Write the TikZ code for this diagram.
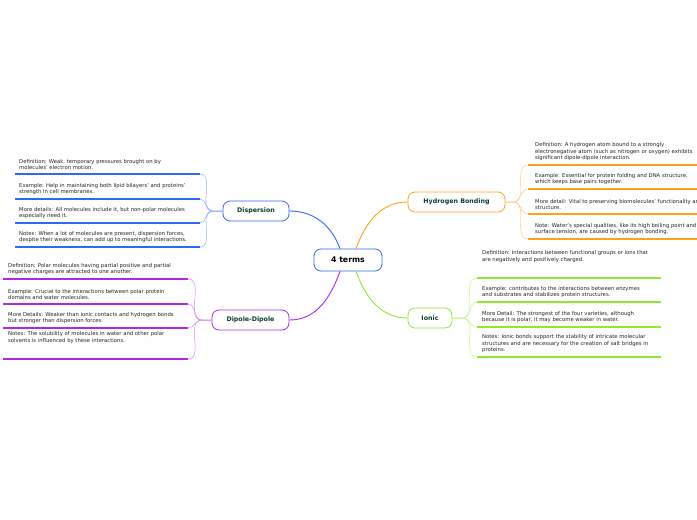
\documentclass[tikz,border=0pt]{standalone}
\usepackage{fontspec}
\setmainfont{DejaVu Sans}
\definecolor{cblue}{HTML}{2F6BF0}
\definecolor{cpurp}{HTML}{A82AF0}
\definecolor{corg}{HTML}{FFA11A}
\definecolor{cgrn}{HTML}{8EEA2A}
\definecolor{ctxt}{HTML}{222222}
\definecolor{clab}{HTML}{0B3D2E}
\tikzset{
 topic/.style={draw=#1,rounded corners=7pt,line width=0.8pt,fill=white,font=\fontsize{6.3}{7}\selectfont\bfseries,text=clab,minimum height=20pt,inner xsep=0pt},
 leaf/.style={anchor=south west,align=left,font=\fontsize{5.3}{6.6}\selectfont,text=ctxt,inner sep=0pt},
 uline/.style={draw=#1,line width=1.4pt},
 conn/.style={draw=#1,line width=0.9pt},
 fan/.style={draw=#1!55,line width=0.5pt},
}
\begin{document}
\begin{tikzpicture}[x=1pt,y=-1pt]
\useasboundingbox (0,0) rectangle (697,520);
% center and topics
\node[topic=cblue,minimum width=68pt,font=\fontsize{7.8}{8}\selectfont\bfseries,text=black,minimum height=22pt] (c) at (348,260) {4 terms};
\node[topic=cblue,minimum width=66pt] (d) at (256,211) {Dispersion};
\node[topic=cpurp,minimum width=77pt] (p) at (250.5,320) {Dipole-Dipole};
\node[topic=corg,minimum width=97pt] (h) at (456.5,202) {Hydrogen Bonding};
\node[topic=cgrn,minimum width=44pt] (i) at (430,318) {Ionic};
\draw[conn=cblue] (c.north) ++(-8,0) coordinate (c1) (c1) to[out=110,in=0] (d.east);
\draw[conn=cpurp] (c.south) ++(-8,0) coordinate (c2) (c2) to[out=-110,in=0] (p.east);
\draw[conn=corg] (c.north) ++(8,0) coordinate (c3) (c3) to[out=70,in=180] (h.west);
\draw[conn=cgrn] (c.south) ++(8,0) coordinate (c4) (c4) to[out=-70,in=180] (i.west);
% Dispersion leaves
\foreach \y/\t in {174/{Definition: Weak, temporary pressures brought on by\\molecules' electron motion.},
 199/{Example: Help in maintaining both lipid bilayers' and proteins'\\strength in cell membranes.},
 223/{More details: All molecules include it, but non-polar molecules\\especially need it.},
 247/{Notes: When a lot of molecules are present, dispersion forces,\\despite their weakness, can add up to meaningful interactions.}}{
 \coordinate (e) at (200,\y);
 \draw[uline=cblue] (15,\y) -- (e);
 \node[leaf] at (19,\y-4) {\t};
 \draw[fan=cblue] (d.west) -- ++(-10,0) to[out=180,in=0] (e);
}
% Dipole leaves
\foreach \y/\t in {279/{Definition: Polar molecules having partial positive and partial\\negative charges are attracted to one another.},
 304/{Example: Crucial to the interactions between polar protein\\domains and water molecules.},
 328/{More Details: Weaker than ionic contacts and hydrogen bonds\\but stronger than dispersion forces.},
 359/{Notes: The solubility of molecules in water and other polar\\solvents is influenced by these interactions.\\[6pt]}}{
 \coordinate (e) at (188,\y);
 \draw[uline=cpurp] (3,\y) -- (e);
 \node[leaf] at (8,\y-4) {\t};
 \draw[fan=cpurp] (p.west) -- ++(-10,0) to[out=180,in=0] (e);
}
% Hydrogen leaves
\foreach \y/\t in {165/{Definition: A hydrogen atom bound to a strongly\\electronegative atom (such as nitrogen or oxygen) exhibits\\significant dipole-dipole interaction.},
 189/{Example: Essential for protein folding and DNA structure,\\which keeps base pairs together.},
 214/{More detail: Vital to preserving biomolecules' functionality and\\structure.},
 239/{Note: Water's special qualities, like its high boiling point and\\surface tension, are caused by hydrogen bonding.}}{
 \coordinate (e) at (528,\y);
 \draw[uline=corg] (e) -- (700,\y);
 \node[leaf] at (535,\y-4) {\t};
 \draw[fan=corg] (h.east) -- ++(8,0) to[out=0,in=180] (e);
}
% Ionic leaves
\foreach \y/\t in {278/{Definition: Interactions between functional groups or ions that\\are negatively and positively charged.\\[6pt]},
 302/{Example: contributes to the interactions between enzymes\\and substrates and stabilizes protein structures.},
 327/{More Detail: The strongest of the four varieties, although\\because it is polar, it may become weaker in water.},
 357/{Notes: Ionic bonds support the stability of intricate molecular\\structures and are necessary for the creation of salt bridges in\\proteins.}}{
 \coordinate (e) at (477,\y);
 \draw[uline=cgrn] (e) -- (661,\y);
 \node[leaf] at (482,\y-4) {\t};
 \draw[fan=cgrn] (i.east) -- ++(10,0) to[out=0,in=180] (e);
}
\end{tikzpicture}
\end{document}
